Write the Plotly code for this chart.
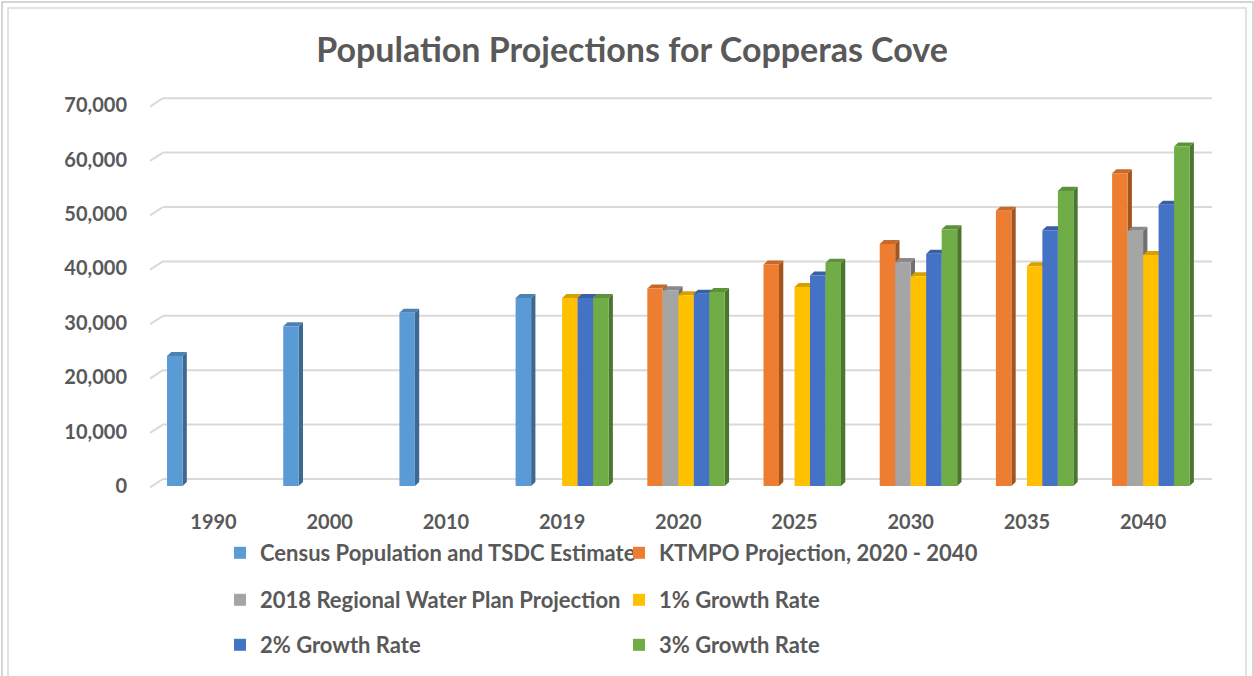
import plotly.graph_objects as go

# ---- data -----------------------------------------------------------------
years = ["1990", "2000", "2010", "2019", "2020", "2025", "2030", "2035", "2040"]

census = [23900, 29350, 31850, 34550, None, None, None, None, None]
ktmpo = [None, None, None, None, 36300, 40700, 44500, 50600, 57500]
water_plan = [None, None, None, None, 36000, None, 41150, None, 46900]
growth_1 = [None, None, None, 34550, 35050, 36600, 38550, 40400, 42450]
growth_2 = [None, None, None, 34550, 35350, 38700, 42700, 47000, 51700]
growth_3 = [None, None, None, 34550, 35650, 41050, 47200, 54250, 62400]

series_names = [
    "Census Population and TSDC Estimate",
    "KTMPO Projection, 2020 - 2040",
    "2018 Regional Water Plan Projection",
    "1% Growth Rate",
    "2% Growth Rate",
    "3% Growth Rate",
]
series_values = [census, ktmpo, water_plan, growth_1, growth_2, growth_3]

y_ticks = [0, 10000, 20000, 30000, 40000, 50000, 60000, 70000]

# ---- styling ----------------------------------------------------------------
front_colors = ["#5B9BD5", "#ED7D31", "#A5A5A5", "#FFC000", "#4472C4", "#70AD47"]


def shade(hex_color, f):
    h = hex_color.lstrip("#")
    r, g, b = (int(h[i:i + 2], 16) for i in (0, 2, 4))
    return "#%02X%02X%02X" % (int(r * f), int(g * f), int(b * f))


side_colors = [shade(c, 0.68) for c in front_colors]
top_colors = [shade(c, 0.84) for c in front_colors]
legend_ids = ["legend", "legend", "legend2", "legend2", "legend3", "legend3"]

TEXT = "#595959"
FONT = "Lato"
GRID = "#D9D9D9"

W, H = 1254, 676
L, R, T, B = 150, 42, 94, 182          # plot-area margins (px)
X_RANGE = [-0.5465, 8.593]
Y_RANGE = [-1470, 72060]

group_width = 0.8
slot = group_width / len(series_values)
depth_x = 0.037                         # 3-D depth, x data units
depth_y = 740                           # 3-D depth, y data units
wall_dx = 0.112                         # back wall offset
wall_dy = 1290

fig = go.Figure()
shapes = []

# back-wall gridlines with the slanted floor ticks
for v in y_ticks:
    shapes.append(dict(type="line", xref="x", yref="y",
                       x0=X_RANGE[0] + wall_dx, x1=X_RANGE[1],
                       y0=v + wall_dy, y1=v + wall_dy,
                       line=dict(color=GRID, width=2), layer="below"))
    shapes.append(dict(type="line", xref="x", yref="y",
                       x0=X_RANGE[0], x1=X_RANGE[0] + wall_dx,
                       y0=v - 250, y1=v + wall_dy,
                       line=dict(color=GRID, width=2), layer="below"))

# columns: front faces as bars, side and top faces as shapes behind them
for j, (name, vals) in enumerate(zip(series_names, series_values)):
    offset = -group_width / 2 + j * slot
    xs = [i for i, v in enumerate(vals) if v is not None]
    ys = [v for v in vals if v is not None]
    for i, v in zip(xs, ys):
        xl = i + offset
        xr = xl + slot
        side = (f"M{xr},0 L{xr + depth_x},{depth_y} L{xr + depth_x},{v + depth_y} "
                f"L{xr},{v} Z")
        top = (f"M{xl},{v} L{xl + depth_x},{v + depth_y} L{xr + depth_x},{v + depth_y} "
               f"L{xr},{v} Z")
        shapes.append(dict(type="path", xref="x", yref="y", path=side,
                           fillcolor=side_colors[j], line=dict(width=0), layer="below"))
        shapes.append(dict(type="path", xref="x", yref="y", path=top,
                           fillcolor=top_colors[j], line=dict(width=0), layer="below"))
    fig.add_trace(go.Bar(
        x=xs, y=ys, name=name, width=slot, offset=offset,
        marker=dict(color=front_colors[j], line=dict(width=0)),
        legend=legend_ids[j],
        hovertemplate="%{y:,}<extra>" + name + "</extra>",
    ))


# chart frame
def px_x(p):
    return (p - L) / (W - L - R)


def px_y(p):
    return (H - B - p) / (H - T - B)


for inset, col in ((2, "#C8C8C8"), (8, "#D9D9D9")):
    shapes.append(dict(type="rect", xref="paper", yref="paper",
                       x0=px_x(inset), x1=px_x(W - inset + (1 if inset == 2 else 0)),
                       y0=px_y(H + 20), y1=px_y(inset),
                       line=dict(color=col, width=1.5), fillcolor="rgba(0,0,0,0)",
                       layer="below"))

legend_font = dict(family=FONT, size=22, color=TEXT, weight="bold")
legend_common = dict(orientation="h", xref="container", yref="container",
                     xanchor="left", yanchor="middle", x=220 / W,
                     entrywidth=354, entrywidthmode="pixels",
                     font=legend_font, bgcolor="rgba(0,0,0,0)",
                     traceorder="normal", itemclick=False, itemdoubleclick=False)

fig.update_layout(
    width=W, height=H,
    margin=dict(l=L, r=R, t=T, b=B, autoexpand=False),
    paper_bgcolor="white", plot_bgcolor="white",
    barmode="overlay",
    title=dict(text="Population Projections for Copperas Cove",
               x=0.504, xref="container", xanchor="center",
               y=1 - 50 / H, yref="container", yanchor="middle",
               font=dict(family=FONT, size=34, color=TEXT, weight="bold")),
    xaxis=dict(range=X_RANGE, tickmode="array", tickvals=list(range(len(years))),
               ticktext=years, showgrid=False, zeroline=False, showline=False,
               ticks="", ticklabelstandoff=14,
               tickfont=dict(family=FONT, size=20, color=TEXT, weight="bold"),
               fixedrange=True),
    yaxis=dict(range=Y_RANGE, tickmode="array", tickvals=y_ticks,
               tickformat=",d", showgrid=False, zeroline=False, showline=False,
               ticks="", ticklabelstandoff=22,
               tickfont=dict(family=FONT, size=20, color=TEXT, weight="bold"),
               fixedrange=True),
    legend=dict(legend_common, y=1 - 553 / H),
    legend2=dict(legend_common, y=1 - 600 / H),
    legend3=dict(legend_common, y=1 - 645 / H),
    shapes=shapes,
    showlegend=True,
)

fig.write_html("out.html")
